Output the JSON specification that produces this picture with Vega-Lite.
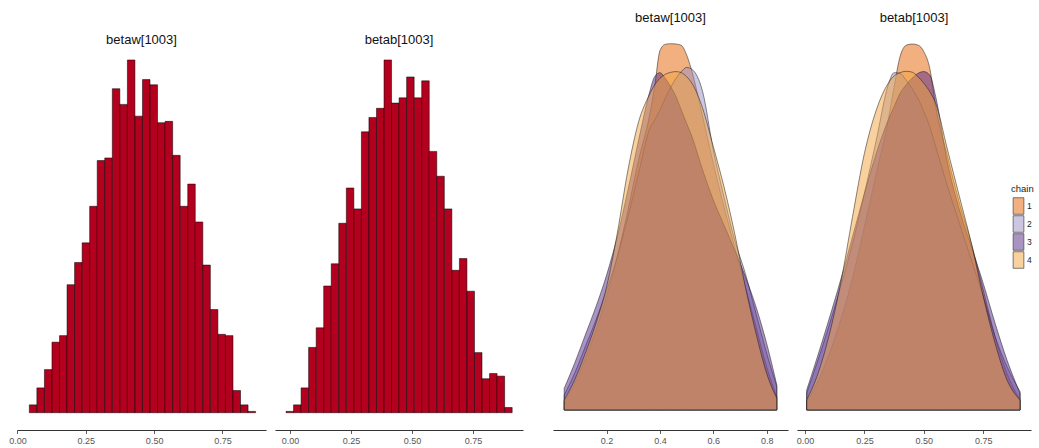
{
  "$schema": "https://vega.github.io/schema/vega-lite/v6.json",
  "autosize": {"type": "none"},
  "padding": {"left": 17, "top": 26, "right": 1022, "bottom": 422},
  "background": "white",
  "config": {
    "font": "Liberation Sans",
    "view": {"stroke": null},
    "axis": {
      "grid": false, "domainColor": "#333333", "domainWidth": 1,
      "tickColor": "#333333", "tickWidth": 0.8, "tickSize": 3.5,
      "labelColor": "#555555", "labelFontSize": 9, "labelPadding": 2.5,
      "labelFlush": false, "labelFont": "Liberation Sans"
    },
    "title": {"fontSize": 13, "fontWeight": "normal", "color": "#111111", "baseline": "middle", "anchor": "middle", "frame": "group", "font": "Liberation Sans"}
  },
  "datasets": {
    "hist": [
      {"p": "w", "lo": 0.0433, "hi": 0.0709, "n": 6},
      {"p": "w", "lo": 0.0709, "hi": 0.0985, "n": 19},
      {"p": "w", "lo": 0.0985, "hi": 0.1261, "n": 33},
      {"p": "w", "lo": 0.1261, "hi": 0.1537, "n": 54},
      {"p": "w", "lo": 0.1537, "hi": 0.1813, "n": 59},
      {"p": "w", "lo": 0.1813, "hi": 0.2089, "n": 98},
      {"p": "w", "lo": 0.2089, "hi": 0.2365, "n": 115},
      {"p": "w", "lo": 0.2365, "hi": 0.2641, "n": 130},
      {"p": "w", "lo": 0.2641, "hi": 0.2917, "n": 158},
      {"p": "w", "lo": 0.2917, "hi": 0.3193, "n": 193},
      {"p": "w", "lo": 0.3193, "hi": 0.3469, "n": 195},
      {"p": "w", "lo": 0.3469, "hi": 0.3745, "n": 248},
      {"p": "w", "lo": 0.3745, "hi": 0.4021, "n": 236},
      {"p": "w", "lo": 0.4021, "hi": 0.4297, "n": 270},
      {"p": "w", "lo": 0.4297, "hi": 0.4573, "n": 227},
      {"p": "w", "lo": 0.4573, "hi": 0.4849, "n": 255},
      {"p": "w", "lo": 0.4849, "hi": 0.5125, "n": 251},
      {"p": "w", "lo": 0.5125, "hi": 0.5401, "n": 222},
      {"p": "w", "lo": 0.5401, "hi": 0.5677, "n": 223},
      {"p": "w", "lo": 0.5677, "hi": 0.5953, "n": 197},
      {"p": "w", "lo": 0.5953, "hi": 0.6229, "n": 158},
      {"p": "w", "lo": 0.6229, "hi": 0.6505, "n": 175},
      {"p": "w", "lo": 0.6505, "hi": 0.6781, "n": 146},
      {"p": "w", "lo": 0.6781, "hi": 0.7057, "n": 113},
      {"p": "w", "lo": 0.7057, "hi": 0.7333, "n": 79},
      {"p": "w", "lo": 0.7333, "hi": 0.7609, "n": 60},
      {"p": "w", "lo": 0.7609, "hi": 0.7885, "n": 59},
      {"p": "w", "lo": 0.7885, "hi": 0.8161, "n": 17},
      {"p": "w", "lo": 0.8161, "hi": 0.8437, "n": 6},
      {"p": "w", "lo": 0.8437, "hi": 0.8713, "n": 1},
      {"p": "b", "lo": -0.0164, "hi": 0.0145, "n": 1},
      {"p": "b", "lo": 0.0145, "hi": 0.0454, "n": 6},
      {"p": "b", "lo": 0.0454, "hi": 0.0763, "n": 19},
      {"p": "b", "lo": 0.0763, "hi": 0.1072, "n": 50},
      {"p": "b", "lo": 0.1072, "hi": 0.1381, "n": 65},
      {"p": "b", "lo": 0.1381, "hi": 0.1690, "n": 97},
      {"p": "b", "lo": 0.1690, "hi": 0.1999, "n": 114},
      {"p": "b", "lo": 0.1999, "hi": 0.2308, "n": 145},
      {"p": "b", "lo": 0.2308, "hi": 0.2617, "n": 172},
      {"p": "b", "lo": 0.2617, "hi": 0.2926, "n": 156},
      {"p": "b", "lo": 0.2926, "hi": 0.3235, "n": 215},
      {"p": "b", "lo": 0.3235, "hi": 0.3544, "n": 226},
      {"p": "b", "lo": 0.3544, "hi": 0.3853, "n": 233},
      {"p": "b", "lo": 0.3853, "hi": 0.4162, "n": 270},
      {"p": "b", "lo": 0.4162, "hi": 0.4471, "n": 237},
      {"p": "b", "lo": 0.4471, "hi": 0.4780, "n": 241},
      {"p": "b", "lo": 0.4780, "hi": 0.5089, "n": 257},
      {"p": "b", "lo": 0.5089, "hi": 0.5398, "n": 241},
      {"p": "b", "lo": 0.5398, "hi": 0.5707, "n": 254},
      {"p": "b", "lo": 0.5707, "hi": 0.6016, "n": 200},
      {"p": "b", "lo": 0.6016, "hi": 0.6325, "n": 181},
      {"p": "b", "lo": 0.6325, "hi": 0.6634, "n": 156},
      {"p": "b", "lo": 0.6634, "hi": 0.6943, "n": 109},
      {"p": "b", "lo": 0.6943, "hi": 0.7252, "n": 118},
      {"p": "b", "lo": 0.7252, "hi": 0.7561, "n": 93},
      {"p": "b", "lo": 0.7561, "hi": 0.7870, "n": 46},
      {"p": "b", "lo": 0.7870, "hi": 0.8179, "n": 26},
      {"p": "b", "lo": 0.8179, "hi": 0.8488, "n": 30},
      {"p": "b", "lo": 0.8488, "hi": 0.8797, "n": 28},
      {"p": "b", "lo": 0.8797, "hi": 0.9106, "n": 4}
    ],
    "dens": [
      {"p":"w","c":"1","x":0.041,"d":0.056},{"p":"w","c":"1","x":0.08,"d":0.178},{"p":"w","c":"1","x":0.12,"d":0.344},{"p":"w","c":"1","x":0.16,"d":0.533},{"p":"w","c":"1","x":0.20,"d":0.756},{"p":"w","c":"1","x":0.24,"d":1.022},{"p":"w","c":"1","x":0.28,"d":1.333},{"p":"w","c":"1","x":0.32,"d":1.667},{"p":"w","c":"1","x":0.36,"d":1.956},{"p":"w","c":"1","x":0.38,"d":2.156},{"p":"w","c":"1","x":0.40,"d":2.396},{"p":"w","c":"1","x":0.42,"d":2.438},{"p":"w","c":"1","x":0.44,"d":2.442},{"p":"w","c":"1","x":0.46,"d":2.440},{"p":"w","c":"1","x":0.48,"d":2.431},{"p":"w","c":"1","x":0.50,"d":2.367},{"p":"w","c":"1","x":0.52,"d":2.256},{"p":"w","c":"1","x":0.56,"d":1.956},{"p":"w","c":"1","x":0.60,"d":1.644},{"p":"w","c":"1","x":0.64,"d":1.356},{"p":"w","c":"1","x":0.68,"d":1.089},{"p":"w","c":"1","x":0.72,"d":0.822},{"p":"w","c":"1","x":0.76,"d":0.556},{"p":"w","c":"1","x":0.80,"d":0.289},{"p":"w","c":"1","x":0.838,"d":0.089},
      {"p":"w","c":"2","x":0.041,"d":0.100},{"p":"w","c":"2","x":0.08,"d":0.244},{"p":"w","c":"2","x":0.12,"d":0.422},{"p":"w","c":"2","x":0.16,"d":0.600},{"p":"w","c":"2","x":0.20,"d":0.800},{"p":"w","c":"2","x":0.24,"d":1.022},{"p":"w","c":"2","x":0.28,"d":1.289},{"p":"w","c":"2","x":0.32,"d":1.578},{"p":"w","c":"2","x":0.36,"d":1.867},{"p":"w","c":"2","x":0.38,"d":1.933},{"p":"w","c":"2","x":0.40,"d":2.000},{"p":"w","c":"2","x":0.42,"d":2.078},{"p":"w","c":"2","x":0.44,"d":2.151},{"p":"w","c":"2","x":0.46,"d":2.211},{"p":"w","c":"2","x":0.48,"d":2.256},{"p":"w","c":"2","x":0.50,"d":2.284},{"p":"w","c":"2","x":0.52,"d":2.271},{"p":"w","c":"2","x":0.56,"d":2.122},{"p":"w","c":"2","x":0.60,"d":1.733},{"p":"w","c":"2","x":0.64,"d":1.422},{"p":"w","c":"2","x":0.68,"d":1.133},{"p":"w","c":"2","x":0.72,"d":0.911},{"p":"w","c":"2","x":0.76,"d":0.644},{"p":"w","c":"2","x":0.80,"d":0.378},{"p":"w","c":"2","x":0.838,"d":0.156},
      {"p":"w","c":"3","x":0.041,"d":0.144},{"p":"w","c":"3","x":0.08,"d":0.311},{"p":"w","c":"3","x":0.12,"d":0.500},{"p":"w","c":"3","x":0.16,"d":0.689},{"p":"w","c":"3","x":0.20,"d":0.900},{"p":"w","c":"3","x":0.24,"d":1.156},{"p":"w","c":"3","x":0.28,"d":1.467},{"p":"w","c":"3","x":0.32,"d":1.800},{"p":"w","c":"3","x":0.36,"d":2.111},{"p":"w","c":"3","x":0.38,"d":2.222},{"p":"w","c":"3","x":0.40,"d":2.249},{"p":"w","c":"3","x":0.42,"d":2.211},{"p":"w","c":"3","x":0.44,"d":2.156},{"p":"w","c":"3","x":0.46,"d":2.089},{"p":"w","c":"3","x":0.48,"d":2.000},{"p":"w","c":"3","x":0.50,"d":1.911},{"p":"w","c":"3","x":0.52,"d":1.822},{"p":"w","c":"3","x":0.56,"d":1.600},{"p":"w","c":"3","x":0.60,"d":1.400},{"p":"w","c":"3","x":0.64,"d":1.233},{"p":"w","c":"3","x":0.68,"d":1.067},{"p":"w","c":"3","x":0.72,"d":0.889},{"p":"w","c":"3","x":0.76,"d":0.689},{"p":"w","c":"3","x":0.80,"d":0.444},{"p":"w","c":"3","x":0.838,"d":0.167},
      {"p":"w","c":"4","x":0.041,"d":0.067},{"p":"w","c":"4","x":0.08,"d":0.200},{"p":"w","c":"4","x":0.12,"d":0.378},{"p":"w","c":"4","x":0.16,"d":0.578},{"p":"w","c":"4","x":0.20,"d":0.822},{"p":"w","c":"4","x":0.24,"d":1.178},{"p":"w","c":"4","x":0.28,"d":1.600},{"p":"w","c":"4","x":0.32,"d":1.922},{"p":"w","c":"4","x":0.36,"d":2.100},{"p":"w","c":"4","x":0.38,"d":2.167},{"p":"w","c":"4","x":0.40,"d":2.211},{"p":"w","c":"4","x":0.42,"d":2.238},{"p":"w","c":"4","x":0.44,"d":2.251},{"p":"w","c":"4","x":0.46,"d":2.256},{"p":"w","c":"4","x":0.48,"d":2.249},{"p":"w","c":"4","x":0.50,"d":2.222},{"p":"w","c":"4","x":0.52,"d":2.178},{"p":"w","c":"4","x":0.56,"d":2.011},{"p":"w","c":"4","x":0.60,"d":1.756},{"p":"w","c":"4","x":0.64,"d":1.489},{"p":"w","c":"4","x":0.68,"d":1.178},{"p":"w","c":"4","x":0.72,"d":0.822},{"p":"w","c":"4","x":0.76,"d":0.511},{"p":"w","c":"4","x":0.80,"d":0.244},{"p":"w","c":"4","x":0.838,"d":0.078},
      {"p":"b","c":"1","x":0.007,"d":0.056},{"p":"b","c":"1","x":0.05,"d":0.178},{"p":"b","c":"1","x":0.10,"d":0.367},{"p":"b","c":"1","x":0.15,"d":0.600},{"p":"b","c":"1","x":0.20,"d":0.878},{"p":"b","c":"1","x":0.25,"d":1.222},{"p":"b","c":"1","x":0.30,"d":1.578},{"p":"b","c":"1","x":0.35,"d":1.933},{"p":"b","c":"1","x":0.375,"d":2.156},{"p":"b","c":"1","x":0.40,"d":2.356},{"p":"b","c":"1","x":0.425,"d":2.431},{"p":"b","c":"1","x":0.45,"d":2.440},{"p":"b","c":"1","x":0.475,"d":2.433},{"p":"b","c":"1","x":0.50,"d":2.389},{"p":"b","c":"1","x":0.525,"d":2.278},{"p":"b","c":"1","x":0.55,"d":2.022},{"p":"b","c":"1","x":0.60,"d":1.689},{"p":"b","c":"1","x":0.65,"d":1.378},{"p":"b","c":"1","x":0.70,"d":1.111},{"p":"b","c":"1","x":0.75,"d":0.800},{"p":"b","c":"1","x":0.80,"d":0.489},{"p":"b","c":"1","x":0.85,"d":0.244},{"p":"b","c":"1","x":0.905,"d":0.067},
      {"p":"b","c":"2","x":0.007,"d":0.111},{"p":"b","c":"2","x":0.05,"d":0.311},{"p":"b","c":"2","x":0.10,"d":0.556},{"p":"b","c":"2","x":0.15,"d":0.822},{"p":"b","c":"2","x":0.20,"d":1.111},{"p":"b","c":"2","x":0.25,"d":1.444},{"p":"b","c":"2","x":0.30,"d":1.800},{"p":"b","c":"2","x":0.35,"d":2.167},{"p":"b","c":"2","x":0.375,"d":2.249},{"p":"b","c":"2","x":0.40,"d":2.244},{"p":"b","c":"2","x":0.425,"d":2.200},{"p":"b","c":"2","x":0.45,"d":2.144},{"p":"b","c":"2","x":0.475,"d":2.078},{"p":"b","c":"2","x":0.50,"d":1.989},{"p":"b","c":"2","x":0.525,"d":1.889},{"p":"b","c":"2","x":0.55,"d":1.756},{"p":"b","c":"2","x":0.60,"d":1.489},{"p":"b","c":"2","x":0.65,"d":1.244},{"p":"b","c":"2","x":0.70,"d":1.000},{"p":"b","c":"2","x":0.75,"d":0.756},{"p":"b","c":"2","x":0.80,"d":0.489},{"p":"b","c":"2","x":0.85,"d":0.289},{"p":"b","c":"2","x":0.905,"d":0.122},
      {"p":"b","c":"3","x":0.007,"d":0.133},{"p":"b","c":"3","x":0.05,"d":0.344},{"p":"b","c":"3","x":0.10,"d":0.600},{"p":"b","c":"3","x":0.15,"d":0.867},{"p":"b","c":"3","x":0.20,"d":1.156},{"p":"b","c":"3","x":0.25,"d":1.444},{"p":"b","c":"3","x":0.30,"d":1.711},{"p":"b","c":"3","x":0.35,"d":1.933},{"p":"b","c":"3","x":0.375,"d":2.022},{"p":"b","c":"3","x":0.40,"d":2.111},{"p":"b","c":"3","x":0.425,"d":2.167},{"p":"b","c":"3","x":0.45,"d":2.211},{"p":"b","c":"3","x":0.475,"d":2.244},{"p":"b","c":"3","x":0.50,"d":2.256},{"p":"b","c":"3","x":0.525,"d":2.233},{"p":"b","c":"3","x":0.55,"d":2.089},{"p":"b","c":"3","x":0.60,"d":1.644},{"p":"b","c":"3","x":0.65,"d":1.333},{"p":"b","c":"3","x":0.70,"d":1.089},{"p":"b","c":"3","x":0.75,"d":0.844},{"p":"b","c":"3","x":0.80,"d":0.578},{"p":"b","c":"3","x":0.85,"d":0.333},{"p":"b","c":"3","x":0.905,"d":0.111},
      {"p":"b","c":"4","x":0.007,"d":0.067},{"p":"b","c":"4","x":0.05,"d":0.222},{"p":"b","c":"4","x":0.10,"d":0.489},{"p":"b","c":"4","x":0.15,"d":0.844},{"p":"b","c":"4","x":0.20,"d":1.289},{"p":"b","c":"4","x":0.25,"d":1.711},{"p":"b","c":"4","x":0.30,"d":2.000},{"p":"b","c":"4","x":0.35,"d":2.178},{"p":"b","c":"4","x":0.375,"d":2.227},{"p":"b","c":"4","x":0.40,"d":2.249},{"p":"b","c":"4","x":0.425,"d":2.258},{"p":"b","c":"4","x":0.45,"d":2.253},{"p":"b","c":"4","x":0.475,"d":2.222},{"p":"b","c":"4","x":0.50,"d":2.178},{"p":"b","c":"4","x":0.525,"d":2.122},{"p":"b","c":"4","x":0.55,"d":2.044},{"p":"b","c":"4","x":0.60,"d":1.733},{"p":"b","c":"4","x":0.65,"d":1.422},{"p":"b","c":"4","x":0.70,"d":1.111},{"p":"b","c":"4","x":0.75,"d":0.756},{"p":"b","c":"4","x":0.80,"d":0.444},{"p":"b","c":"4","x":0.85,"d":0.200},{"p":"b","c":"4","x":0.905,"d":0.067}
    ]
  },
  "bounds": "flush",
  "spacing": 9,
  "resolve": {"scale": {"color": "independent"}, "legend": {"color": "independent"}},
  "hconcat": [
    {
      "width": 249, "height": 404,
      "title": {"text": "betaw[1003]", "offset": -21},
      "data": {"name": "hist"},
      "transform": [{"filter": "datum.p == 'w'"}],
      "mark": {"type": "bar", "fill": "#B2001E", "stroke": "#000000", "strokeWidth": 0.5},
      "encoding": {
        "x": {"field": "lo", "type": "quantitative", "scale": {"domain": [-0.0018, 0.9093], "nice": false, "zero": false}, "axis": {"values": [0, 0.25, 0.5, 0.75], "format": ".2f", "title": null}},
        "x2": {"field": "hi"},
        "y": {"field": "n", "type": "quantitative", "stack": null, "scale": {"domain": [-13.24, 296], "nice": false, "zero": false}, "axis": null},
        "y2": {"datum": 0}
      }
    },
    {
      "width": 248, "height": 404,
      "title": {"text": "betab[1003]", "offset": -21},
      "data": {"name": "hist"},
      "transform": [{"filter": "datum.p == 'b'"}],
      "mark": {"type": "bar", "fill": "#B2001E", "stroke": "#000000", "strokeWidth": 0.5},
      "encoding": {
        "x": {"field": "lo", "type": "quantitative", "scale": {"domain": [-0.0615, 0.955], "nice": false, "zero": false}, "axis": {"values": [0, 0.25, 0.5, 0.75], "format": ".2f", "title": null}},
        "x2": {"field": "hi"},
        "y": {"field": "n", "type": "quantitative", "stack": null, "scale": {"domain": [-13.24, 296], "nice": false, "zero": false}, "axis": null},
        "y2": {"datum": 0}
      }
    },
    {
      "width": 12, "height": 404,
      "data": {"values": []},
      "mark": "point"
    },
    {
      "width": 235, "height": 404,
      "title": {"text": "betaw[1003]", "offset": 1},
      "data": {"name": "dens"},
      "transform": [{"filter": "datum.p == 'w'"}],
      "mark": {"type": "area", "interpolate": "monotone", "fillOpacity": 0.5, "stroke": "#1a1a1a", "strokeWidth": 0.6, "strokeOpacity": 0.85},
      "encoding": {
        "x": {"field": "x", "type": "quantitative", "scale": {"domain": [-0.001, 0.88], "nice": false, "zero": false}, "axis": {"values": [0.2, 0.4, 0.6, 0.8], "format": ".1f", "title": null}},
        "y": {"field": "d", "type": "quantitative", "stack": null, "scale": {"domain": [-0.1333, 2.56], "nice": false, "zero": false}, "axis": null},
        "color": {"field": "c", "type": "nominal", "scale": {"domain": ["1", "2", "3", "4"], "range": ["#E66101", "#998EC3", "#542788", "#F1A340"]}, "legend": null}
      }
    },
    {
      "width": 234, "height": 404,
      "title": {"text": "betab[1003]", "offset": 1},
      "data": {"name": "dens"},
      "transform": [{"filter": "datum.p == 'b'"}],
      "mark": {"type": "area", "interpolate": "monotone", "fillOpacity": 0.5, "stroke": "#1a1a1a", "strokeWidth": 0.6, "strokeOpacity": 0.85},
      "encoding": {
        "x": {"field": "x", "type": "quantitative", "scale": {"domain": [-0.0337, 0.951], "nice": false, "zero": false}, "axis": {"values": [0, 0.25, 0.5, 0.75], "format": ".2f", "title": null}},
        "y": {"field": "d", "type": "quantitative", "stack": null, "scale": {"domain": [-0.1333, 2.56], "nice": false, "zero": false}, "axis": null},
        "color": {
          "field": "c", "type": "nominal",
          "scale": {"domain": ["1", "2", "3", "4"], "range": ["#E66101", "#998EC3", "#542788", "#F1A340"]},
          "legend": {
            "orient": "none", "legendX": 214, "legendY": 158,
            "title": "chain", "titleFontSize": 9.5, "titleFontWeight": "normal", "titleColor": "#1a1a1a", "titlePadding": 5,
            "labelFontSize": 8.5, "labelColor": "#1a1a1a", "labelOffset": 1,
            "symbolType": "M-0.76,-1.17H0.76V1.17H-0.76Z", "symbolSize": 200, "rowPadding": -3.3,
            "symbolStrokeColor": "#444444", "symbolStrokeWidth": 0.7, "symbolOpacity": 1,
            "encode": {"symbols": {"update": {"fillOpacity": {"value": 0.5}, "strokeOpacity": {"value": 1}}}}
          }
        }
      }
    }
  ]
}
